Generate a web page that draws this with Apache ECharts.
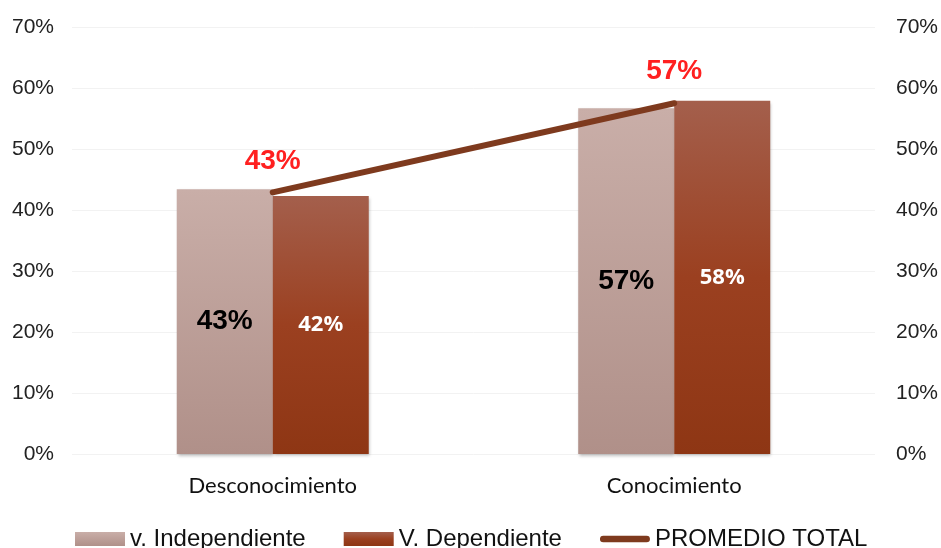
<!DOCTYPE html>
<html>
<head>
<meta charset="utf-8">
<script src="https://cdn.jsdelivr.net/npm/echarts@6/dist/echarts.min.js"></script>
<style>html,body{margin:0;padding:0;background:#fff}#c{width:941px;height:548px}</style>
</head>
<body>
<div id="c"></div>
<script>
var categories = ['Desconocimiento', 'Conocimiento'];
var independiente = [0.434, 0.567];
var dependiente = [0.423, 0.579];
var promedio = [0.429, 0.575];
var yTicks = [0, 0.1, 0.2, 0.3, 0.4, 0.5, 0.6, 0.7];
var seriesNames = ['v. Independiente', 'V. Dependiente', 'PROMEDIO TOTAL'];

var chart = echarts.init(document.getElementById('c'));
function pct(v) { return Math.round(v * 100) + '%'; }
var yAxisCommon = {
  type: 'value', min: yTicks[0], max: yTicks[yTicks.length - 1], interval: 0.1,
  axisLine: { show: false }, axisTick: { show: false },
  axisLabel: { formatter: function (v) { return pct(v); }, color: '#222', fontFamily: 'Liberation Sans', fontSize: 21 }
};
chart.setOption({
  animation: false,
  grid: { left: 72, right: 65, top: 27, bottom: 94 },
  legend: {
    left: 75, top: 527, padding: 0, itemWidth: 50, itemHeight: 14, itemGap: 38,
    textStyle: { fontFamily: 'Liberation Sans', fontSize: 24, color: '#111' },
    data: [
      { name: seriesNames[0], icon: 'rect' },
      { name: seriesNames[1], icon: 'rect' },
      { name: seriesNames[2], icon: 'path://M4,0H56A4,4 0 0 1 56,8H4A4,4 0 0 1 4,0Z' }
    ]
  },
  xAxis: {
    type: 'category', data: categories,
    axisLine: { show: false }, axisTick: { show: false },
    axisLabel: { margin: 21, color: '#111', fontFamily: 'Lato', fontSize: 22 }
  },
  yAxis: [
    Object.assign({}, yAxisCommon, { position: 'left', axisLabel: Object.assign({}, yAxisCommon.axisLabel, { margin: 18 }), splitLine: { lineStyle: { color: '#f2f2f2' } } }),
    Object.assign({}, yAxisCommon, { position: 'right', axisLabel: Object.assign({}, yAxisCommon.axisLabel, { margin: 21, align: 'left' }), splitLine: { show: false } })
  ],
  series: [
    {
      name: seriesNames[0], type: 'bar', data: independiente, barWidth: 96, barGap: '0%',
      itemStyle: {
        color: new echarts.graphic.LinearGradient(0, 0, 0, 1, [{ offset: 0, color: '#c9aea8' }, { offset: 1, color: '#b09089' }]),
        shadowColor: 'rgba(0,0,0,0.25)', shadowBlur: 3, shadowOffsetX: 1, shadowOffsetY: 2
      },
      label: { show: true, position: 'inside', formatter: function (p) { return pct(p.value); }, color: '#000', fontFamily: 'Liberation Sans', fontWeight: 'bold', fontSize: 28 }
    },
    {
      name: seriesNames[1], type: 'bar', data: dependiente, barWidth: 96,
      itemStyle: {
        color: new echarts.graphic.LinearGradient(0, 0, 0, 1, [{ offset: 0, color: '#a45f4c' }, { offset: 0.5, color: '#9b4020' }, { offset: 1, color: '#8e3614' }]),
        shadowColor: 'rgba(0,0,0,0.25)', shadowBlur: 3, shadowOffsetX: 1, shadowOffsetY: 2
      },
      label: { show: true, position: 'inside', formatter: function (p) { return pct(p.value); }, color: '#fff', fontFamily: 'Open Sans', fontWeight: 'bold', fontSize: 22 }
    },
    {
      name: seriesNames[2], type: 'line', yAxisIndex: 1, data: promedio,
      symbol: 'circle', symbolSize: 1, z: 5,
      lineStyle: { color: '#7e3a1e', width: 6, cap: 'round' },
      itemStyle: { color: '#7e3a1e' },
      label: { show: true, position: 'top', distance: 17, formatter: function (p) { return pct(p.value); }, color: '#ff2020', fontFamily: 'Liberation Sans', fontWeight: 'bold', fontSize: 28 }
    }
  ]
});
</script>
</body>
</html>
